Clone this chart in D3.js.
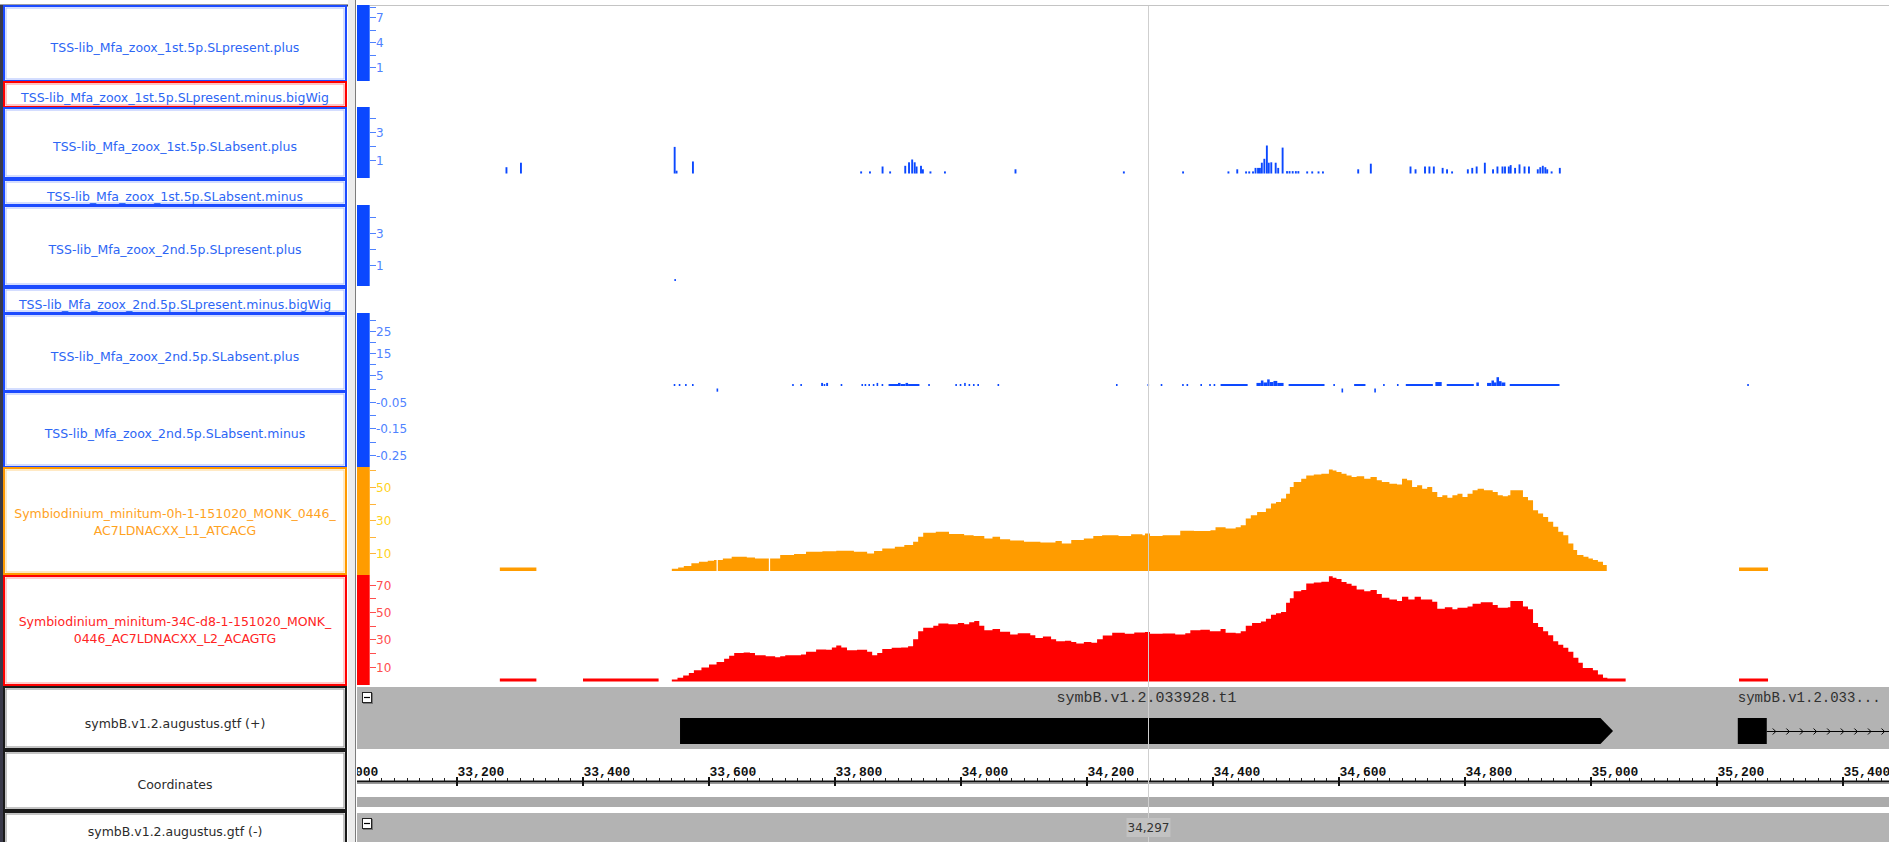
<!DOCTYPE html>
<html>
<head>
<meta charset="utf-8">
<script src="https://cdn.jsdelivr.net/npm/d3@7"></script>
<style>
  html, body { margin: 0; padding: 0; background: #fff; overflow: hidden; }
  svg { display: block; }
</style>
</head>
<body>
<svg id="browser" width="1889" height="842"></svg>
<script>
// ---------------------------------------------------------------------------
// Data for the genomic window around symbB.v1.2.033928.t1
// ---------------------------------------------------------------------------

// Track names, top to bottom
const trackLabels = [
  ["TSS-lib_Mfa_zoox_1st.5p.SLpresent.plus"],
  ["TSS-lib_Mfa_zoox_1st.5p.SLpresent.minus.bigWig"],
  ["TSS-lib_Mfa_zoox_1st.5p.SLabsent.plus"],
  ["TSS-lib_Mfa_zoox_1st.5p.SLabsent.minus"],
  ["TSS-lib_Mfa_zoox_2nd.5p.SLpresent.plus"],
  ["TSS-lib_Mfa_zoox_2nd.5p.SLpresent.minus.bigWig"],
  ["TSS-lib_Mfa_zoox_2nd.5p.SLabsent.plus"],
  ["TSS-lib_Mfa_zoox_2nd.5p.SLabsent.minus"],
  ["Symbiodinium_minitum-0h-1-151020_MONK_0446_", "AC7LDNACXX_L1_ATCACG"],
  ["Symbiodinium_minitum-34C-d8-1-151020_MONK_", "0446_AC7LDNACXX_L2_ACAGTG"],
  ["symbB.v1.2.augustus.gtf (+)"],
  ["Coordinates"],
  ["symbB.v1.2.augustus.gtf (-)"]
];

// Coordinate ruler
const coordMajorTicks = [33000, 33200, 33400, 33600, 33800, 34000, 34200, 34400, 34600, 34800, 35000, 35200, 35400];
const coordMinorStep = 20;
const cursorPos = 34297;

// Per-track value axes: tick values and the ones that carry a label
const ticks1stPresentPlus  = [8.25, 7, 5.5, 4, 2.5, 1];
const labels1stPresentPlus = [7, 4, 1];
const ticks1stAbsentPlus   = [4, 3, 2, 1];
const labels1stAbsentPlus  = [3, 1];
const ticks2ndPresentPlus  = [4, 3, 2, 1];
const labels2ndPresentPlus = [3, 1];
const ticks2ndAbsentPlus   = [30, 25, 20, 15, 10, 5];
const labels2ndAbsentPlus  = [25, 15, 5];
const ticks2ndAbsentMinus  = [0, -0.05, -0.1, -0.15, -0.2, -0.25];
const labels2ndAbsentMinus = [-0.05, -0.15, -0.25];
const ticks0h   = [60, 50, 40, 30, 20, 10];
const labels0h  = [50, 30, 10];
const ticks34C  = [70, 60, 50, 40, 30, 20, 10];
const labels34C = [70, 50, 30, 10];

// TSS signal intervals: [start, end, value]
const tss1stPresentPlus = [];   // no signal in this window
const tss1stAbsentPlus = [
  [33277,33280,0.45],[33300,33303,0.77],[33544,33547,1.9],[33547,33550,0.2],[33573,33576,0.86],
  [33840,33843,0.15],[33854,33857,0.15],[33874,33877,0.5],[33886,33889,0.15],
  [33910,33913,0.55],[33916,33919,0.8],[33921,33924,1.0],[33925,33928,0.8],[33928,33931,0.5],
  [33935,33938,0.55],[33938,33941,0.3],[33950,33953,0.15],[33973,33976,0.15],[34085,34088,0.3],
  [34257,34260,0.15],[34351,34354,0.15],[34423,34426,0.15],[34437,34440,0.3],[34451,34454,0.15],
  [34456,34459,0.15],[34462,34465,0.15],[34466,34469,0.4],[34470,34473,0.4],[34473,34476,0.4],
  [34476,34479,0.77],[34480,34483,1.05],[34484,34487,2.0],[34487,34490,0.77],[34491,34494,0.8],
  [34498,34501,0.77],[34502,34505,0.4],[34509,34512,1.85],[34516,34519,0.17],[34520,34523,0.17],
  [34525,34528,0.17],[34530,34533,0.17],[34534,34537,0.17],[34548,34551,0.15],[34556,34559,0.15],
  [34566,34569,0.15],[34573,34576,0.15],[34629,34632,0.3],[34649,34652,0.7],[34712,34715,0.5],
  [34720,34723,0.3],[34735,34738,0.5],[34742,34745,0.5],[34749,34752,0.5],[34763,34766,0.4],
  [34770,34773,0.3],[34778,34781,0.15],[34803,34806,0.3],[34810,34813,0.4],[34817,34820,0.5],
  [34830,34833,0.77],[34843,34846,0.3],[34850,34853,0.5],[34858,34861,0.5],[34862,34865,0.5],
  [34868,34871,0.5],[34871,34874,0.6],[34878,34881,0.4],[34885,34888,0.65],[34893,34896,0.5],
  [34900,34903,0.5],[34914,34917,0.3],[34918,34921,0.45],[34922,34925,0.55],[34926,34929,0.45],
  [34929,34932,0.3],[34936,34939,0.15],[34949,34952,0.4]
];
const tss2ndPresentPlus = [[33545,33547,0.12]];
const tss2ndAbsentPlus = [
  [33544,33546,0.9],[33552,33554,0.9],[33562,33564,0.9],[33573,33575,0.9],
  [33732,33734,0.9],[33745,33747,0.9],[33778,33781,1.4],[33782,33784,0.9],[33786,33789,1.4],
  [33809,33811,0.9],[33842,33844,0.9],[33847,33849,0.9],[33853,33855,0.9],[33860,33862,0.9],
  [33866,33868,1.4],[33874,33876,0.9],[33885,33900,0.9],[33900,33904,1.4],[33904,33912,0.9],
  [33912,33916,1.4],[33916,33934,0.9],[33948,33950,0.9],[33991,33993,0.9],[33998,34000,0.9],
  [34005,34007,1.4],[34012,34014,0.9],[34019,34021,0.9],[34026,34028,0.9],[34058,34060,0.9],
  [34246,34248,0.9],[34296,34298,0.9],[34317,34319,0.9],[34351,34353,0.9],[34358,34360,0.9],
  [34380,34382,0.9],[34394,34396,0.9],[34401,34403,0.9],[34412,34455,0.9],
  [34469,34476,1.4],[34476,34480,2.5],[34480,34486,1.6],[34486,34490,3.0],[34490,34496,1.8],
  [34496,34502,2.3],[34502,34512,1.4],[34520,34577,0.9],[34591,34593,0.9],[34624,34642,0.9],
  [34670,34672,0.9],[34692,34694,0.9],[34706,34749,0.9],[34753,34763,1.8],[34771,34814,0.9],
  [34818,34822,1.6],[34835,34842,1.4],[34842,34846,2.5],[34846,34850,1.6],[34850,34854,4.0],
  [34854,34858,2.2],[34858,34864,1.6],[34871,34950,0.9],[35248,35250,0.9]
];
const tss2ndAbsentMinus = [[33612,33614,-0.012],[34604,34606,-0.015],[34656,34658,-0.015]];

// RNA-seq read coverage: [position, depth], step after each position
const coverage0h = [
  [33268,1.5],[33326,0],
  [33541,0.8],[33551,1.5],[33560,2.4],[33572,4],[33584,5],[33598,5.5],[33608,6],[33612,0],[33614,6],
  [33622,7],[33636,8],[33660,7.6],[33673,7],[33695,0],[33697,7],[33713,9],[33735,9.6],[33754,11],
  [33780,11.3],[33802,11.6],[33830,11],[33851,10],[33862,11.5],[33875,13],[33895,14],[33910,15],
  [33924,17],[33932,20],[33940,22.5],[33960,23],[33981,21.7],[34005,21],[34020,20.5],[34037,19],
  [34050,20],[34062,18.5],[34078,17.7],[34100,17],[34126,16.5],[34150,17.5],[34160,16],[34175,18],
  [34195,19],[34210,20.5],[34224,21],[34250,20.5],[34270,21.5],[34288,21],[34292,22],[34300,20.5],
  [34320,21],[34348,23.7],[34370,23.5],[34396,24],[34404,25.7],[34420,25],[34436,25.7],[34444,27],
  [34452,31],[34460,33],[34470,35],[34484,37],[34492,40],[34500,41],[34508,43],[34516,46],[34522,50],
  [34528,53],[34540,55],[34548,57],[34560,57.5],[34572,58],[34584,60.6],[34590,60],[34596,59],
  [34604,58],[34612,57],[34620,56],[34628,56.5],[34640,55],[34650,56],[34660,54],[34668,53],
  [34680,52],[34692,51.5],[34700,55],[34708,54],[34716,50],[34724,51],[34732,49],[34740,50],
  [34748,47],[34756,44],[34764,45],[34772,43.5],[34780,45],[34788,46],[34796,44],[34804,46],
  [34812,48],[34820,49],[34830,48],[34844,47],[34852,45],[34860,44.5],[34868,45],[34872,48],
  [34884,48],[34892,44],[34900,42],[34908,36],[34916,34],[34924,32],[34932,29],[34940,26],
  [34948,23],[34956,21],[34964,16],[34972,12],[34978,9],[34988,8],[34996,7],[35003,6],[35011,5],
  [35019,3],[35025,0],
  [35235,1.5],[35281,0]
];
const coverage34C = [
  [33268,1.5],[33326,0],[33400,1.5],[33520,0],
  [33541,0.8],[33550,2],[33559,3.6],[33568,5.5],[33576,7.5],[33588,9.5],[33600,11.7],[33612,13.5],
  [33624,15.8],[33632,18],[33640,20],[33655,20.5],[33665,20],[33673,18.5],[33690,17.7],[33705,17],
  [33713,17.7],[33721,18.5],[33746,19],[33754,21],[33770,22.6],[33786,22.5],[33795,24],[33802,25.5],
  [33810,24],[33819,22],[33835,22.5],[33851,21],[33859,18.5],[33867,20],[33875,23],[33890,23.8],
  [33905,24],[33916,25],[33924,30],[33932,36],[33940,38.5],[33956,40],[33964,41.6],[33980,41],
  [33995,42],[34005,41],[34013,42.5],[34021,43.3],[34029,40],[34037,36.7],[34050,37.5],[34062,35.5],
  [34078,33.6],[34090,34.5],[34110,33],[34118,31],[34130,32],[34143,30],[34151,28.7],[34165,29],
  [34175,28],[34183,27],[34195,28],[34207,27.5],[34216,30],[34225,32.8],[34240,34.8],[34260,34],
  [34275,35],[34292,35.3],[34300,34],[34320,34.3],[34340,33.5],[34356,34.5],[34364,36.7],[34380,37],
  [34395,36],[34412,37.5],[34420,34.8],[34436,34.5],[34444,36],[34452,40],[34462,42],[34476,43],
  [34484,45],[34492,48],[34500,49],[34508,50],[34516,56.7],[34522,60],[34528,65],[34540,66],
  [34548,70.8],[34560,71.5],[34572,72],[34584,76],[34590,75],[34596,74],[34604,71.8],[34612,70.5],
  [34620,69],[34628,66.4],[34640,65],[34650,66],[34660,63],[34668,60.3],[34680,59],[34692,58],
  [34700,61],[34710,59],[34720,61],[34730,59],[34748,57.5],[34756,52.3],[34768,53.5],[34780,52],
  [34788,53],[34804,54],[34812,56],[34825,57],[34844,55],[34852,53],[34868,53.5],[34872,58],
  [34884,58],[34892,54],[34900,52],[34908,42],[34916,39],[34924,36],[34932,33],[34940,28.7],
  [34948,26],[34956,23.8],[34964,21],[34972,16.5],[34980,13],[34987,9.2],[35003,7.5],[35011,4.4],
  [35019,2],[35026,1.5],[35055,0],
  [35235,1.5],[35281,0]
];

// Gene models on the plus strand
const genesPlus = [
  { name: "symbB.v1.2.033928.t1", start: 33554, end: 35035, exons: [[33554, 35035]], labelAlign: "middle" },
  { name: "symbB.v1.2.033...",    start: 35233, end: 35600, exons: [[35233, 35279]], labelAlign: "start" }
];

// ---------------------------------------------------------------------------
// Drawing
// ---------------------------------------------------------------------------
const W = 1889, H = 842;
const svg = d3.select("#browser");
const dataLeft = 357, barRight = 369;

const BLUE = "#0b48ff", BLUE_TXT = "#2d66f5", BLUE_TICK = "#4f82ff";
const ORANGE = "#ff9c00", ORANGE_TXT = "#ffa21e", ORANGE_TICK = "#ffb43a", ORANGE_LBL = "#ffd21c";
const RED = "#ff0000", RED_TXT = "#ff2424", RED_TICK = "#ff4e4e";
const GREY = "#b3b3b3";

const x = d3.scaleLinear().domain([33200, 35400]).range([457, 1843]);

svg.append("rect").attr("width", W).attr("height", H).attr("fill", "#fff");

svg.append("defs").append("clipPath").attr("id", "dataClip")
  .append("rect").attr("x", dataLeft).attr("y", 0).attr("width", W - dataLeft).attr("height", H);

// ---- left label panel -----------------------------------------------------
const boxes = [
  { top: 6,   bottom: 81,  textY: 47,  outer: "#1c4bff", inner: "#a9bcff", text: BLUE_TXT },
  { top: 82,  bottom: 107, textY: 97.5,outer: "#ff0000", inner: "#ff8a8a", text: BLUE_TXT },
  { top: 108, bottom: 178, textY: 146, outer: "#1c4bff", inner: "#a9bcff", text: BLUE_TXT },
  { top: 180, bottom: 205, textY: 196, outer: "#1c4bff", inner: "#a9bcff", text: BLUE_TXT },
  { top: 206, bottom: 286, textY: 249, outer: "#1c4bff", inner: "#a9bcff", text: BLUE_TXT },
  { top: 288, bottom: 313, textY: 304, outer: "#1c4bff", inner: "#a9bcff", text: BLUE_TXT },
  { top: 314, bottom: 391, textY: 356, outer: "#1c4bff", inner: "#a9bcff", text: BLUE_TXT },
  { top: 392, bottom: 467, textY: 433, outer: "#1c4bff", inner: "#a9bcff", text: BLUE_TXT },
  { top: 468, bottom: 574, textY: 521.5, outer: "#ff9a00", inner: "#ffd48a", text: ORANGE_TXT },
  { top: 576, bottom: 685, textY: 630, outer: "#ff0000", inner: "#ff9a9a", text: RED_TXT },
  { top: 687, bottom: 749, textY: 723, outer: "#1a1a1a", inner: "#8a8a8a", text: "#2b2b2b" },
  { top: 751, bottom: 810, textY: 784, outer: "#1a1a1a", inner: "#8a8a8a", text: "#2b2b2b" },
  { top: 812, bottom: 852, textY: 831, outer: "#1a1a1a", inner: "#8a8a8a", text: "#2b2b2b" }
];

const left = svg.append("g");
left.append("rect").attr("x", 0).attr("y", 4).attr("width", 348).attr("height", H)
  .attr("fill", "#fff");
// panel frame
left.append("line").attr("x1", 1.5).attr("x2", 1.5).attr("y1", 5).attr("y2", H)
  .attr("stroke", "#3a3a4a").attr("stroke-width", 3);
left.append("line").attr("x1", 0).attr("x2", 348).attr("y1", 5.5).attr("y2", 5.5)
  .attr("stroke", "#3a3a4a").attr("stroke-width", 2);

boxes.forEach((b, i) => {
  const g = left.append("g");
  g.append("rect").attr("x", 4).attr("y", b.top).attr("width", 342).attr("height", b.bottom - b.top)
    .attr("fill", "#fff").attr("stroke", b.outer).attr("stroke-width", 2);
  g.append("rect").attr("x", 6).attr("y", b.top + 2).attr("width", 338).attr("height", b.bottom - b.top - 4)
    .attr("fill", "none").attr("stroke", b.inner).attr("stroke-width", 1);
  const lines = trackLabels[i];
  const lh = 17;
  lines.forEach((t, k) => {
    g.append("text")
      .attr("x", 175)
      .attr("y", b.textY + (k - (lines.length - 1) / 2) * lh)
      .attr("dy", "0.36em")
      .attr("text-anchor", "middle")
      .attr("font-family", "DejaVu Sans, Verdana, sans-serif")
      .attr("font-size", 12.5)
      .attr("fill", b.text)
      .text(t);
  });
});

// splitter between the panels
svg.append("rect").attr("x", 348).attr("y", 0).attr("width", 7).attr("height", H).attr("fill", "#ececec");
svg.append("line").attr("x1", 355.5).attr("x2", 355.5).attr("y1", 0).attr("y2", H)
  .attr("stroke", "#7c7c7c").attr("stroke-width", 1);
svg.append("line").attr("x1", dataLeft).attr("x2", W).attr("y1", 5.5).attr("y2", 5.5)
  .attr("stroke", "#c4c4c4").attr("stroke-width", 1);

// ---- data panel -----------------------------------------------------------
const plot = svg.append("g").attr("clip-path", "url(#dataClip)");

// value scales for each track
const y1stPresentPlus = d3.scaleLinear().domain([1, 7]).range([67, 17]);
const y1stAbsentPlus  = d3.scaleLinear().domain([0, 4]).range([173.5, 117.5]);
const y2ndPresentPlus = d3.scaleLinear().domain([0, 4]).range([281, 217]);
const y2ndAbsentPlus  = d3.scaleLinear().domain([0, 30]).range([386, 320]);
const y2ndAbsentMinus = d3.scaleLinear().domain([0, -0.3]).range([388.5, 468]);
const y0h  = d3.scaleLinear().domain([0, 60]).range([570, 470.4]);
const y34C = d3.scaleLinear().domain([0, 70]).range([680.5, 584.5]);

// signal intervals as thin bars
function drawIntervals(data, y, color) {
  const y0 = y(0);
  plot.append("g").selectAll("rect").data(data).join("rect")
    .attr("x", d => x(d[0]))
    .attr("width", d => Math.max(1.6, x(d[1]) - x(d[0])))
    .attr("y", d => Math.min(y0, y(d[2])))
    .attr("height", d => Math.max(1.5, Math.abs(y(d[2]) - y0)))
    .attr("fill", color);
}
drawIntervals(tss1stPresentPlus, y1stPresentPlus, BLUE);
drawIntervals(tss1stAbsentPlus, y1stAbsentPlus, BLUE);
drawIntervals(tss2ndPresentPlus, y2ndPresentPlus, BLUE);
drawIntervals(tss2ndAbsentPlus, y2ndAbsentPlus, BLUE);
drawIntervals(tss2ndAbsentMinus, y2ndAbsentMinus, BLUE);

// read coverage as stepped areas
function drawCoverage(data, y, color) {
  const area = d3.area().curve(d3.curveStepAfter)
    .x(d => x(d[0])).y0(y(0) + 1).y1(d => d[1] > 0 ? y(d[1]) : y(0) + 1);
  plot.append("path").datum(data).attr("d", area).attr("fill", color);
}
drawCoverage(coverage0h, y0h, ORANGE);
drawCoverage(coverage34C, y34C, RED);

// colour bars and value axes along the left edge of the data panel
function drawScaleBar(top, bottom, fill) {
  svg.append("rect").attr("x", dataLeft).attr("y", top).attr("width", barRight - dataLeft)
    .attr("height", bottom - top).attr("fill", fill);
}
function drawValueAxis(y, ticks, labels, top, bottom, tickColor, labelColor, fmt) {
  const g = svg.append("g");
  g.append("line").attr("x1", barRight + 0.5).attr("x2", barRight + 0.5).attr("y1", top).attr("y2", bottom)
    .attr("stroke", tickColor).attr("stroke-width", 1);
  ticks.forEach(v => {
    const yy = Math.round(y(v)) + 0.5;
    g.append("line").attr("x1", barRight).attr("x2", barRight + 7).attr("y1", yy).attr("y2", yy)
      .attr("stroke", tickColor).attr("stroke-width", 1);
    if (labels.includes(v)) {
      g.append("text").attr("x", barRight + 7).attr("y", yy).attr("dy", "0.36em")
        .attr("font-family", "DejaVu Sans, Verdana, sans-serif").attr("font-size", 12)
        .attr("fill", labelColor).text(fmt ? fmt(v) : String(v));
    }
  });
}
drawScaleBar(5, 81, BLUE);
drawScaleBar(107, 178, BLUE);
drawScaleBar(205, 286, BLUE);
drawScaleBar(313, 467, BLUE);
drawScaleBar(467, 575, ORANGE);
drawScaleBar(575, 685, RED);

drawValueAxis(y1stPresentPlus, ticks1stPresentPlus, labels1stPresentPlus, 5, 81, BLUE_TICK, BLUE_TICK);
drawValueAxis(y1stAbsentPlus, ticks1stAbsentPlus, labels1stAbsentPlus, 107, 178, BLUE_TICK, BLUE_TICK);
drawValueAxis(y2ndPresentPlus, ticks2ndPresentPlus, labels2ndPresentPlus, 205, 286, BLUE_TICK, BLUE_TICK);
drawValueAxis(y2ndAbsentPlus, ticks2ndAbsentPlus, labels2ndAbsentPlus, 313, 390, BLUE_TICK, BLUE_TICK);
drawValueAxis(y2ndAbsentMinus, ticks2ndAbsentMinus, labels2ndAbsentMinus, 390, 467, BLUE_TICK, BLUE_TICK);
drawValueAxis(y0h, ticks0h, labels0h, 467, 575, ORANGE_TICK, ORANGE_LBL);
drawValueAxis(y34C, ticks34C, labels34C, 575, 685, RED_TICK, RED_TICK);

// ---- gene track (+) ---------------------------------------------------------
const geneTop = 687, geneBottom = 749, exonTop = 718, exonBottom = 744;
const exonMid = (exonTop + exonBottom) / 2;
plot.append("rect").attr("x", dataLeft).attr("y", geneTop).attr("width", W - dataLeft)
  .attr("height", geneBottom - geneTop).attr("fill", GREY);

genesPlus.forEach(gene => {
  const g = plot.append("g");
  const gx0 = x(gene.start), gx1 = x(gene.end);
  // intron line with direction chevrons
  const lastExonEnd = x(d3.max(gene.exons, e => e[1]));
  if (gx1 > lastExonEnd) {
    g.append("line").attr("x1", lastExonEnd).attr("x2", gx1).attr("y1", exonMid + 0.5).attr("y2", exonMid + 0.5)
      .attr("stroke", "#000").attr("stroke-width", 1);
    d3.range(lastExonEnd + 9, Math.min(gx1, W), 13.6).forEach(cx => {
      g.append("path").attr("d", `M${cx - 3},${exonMid - 2.5}L${cx},${exonMid + 0.5}L${cx - 3},${exonMid + 3.5}`)
        .attr("fill", "none").attr("stroke", "#000").attr("stroke-width", 1);
    });
  }
  gene.exons.forEach(e => {
    const ex0 = x(e[0]), ex1 = x(e[1]);
    if (e[1] === gene.end) {
      // final block ends in a pointed tip showing strand direction
      const tip = 20 * (x(1) - x(0));
      g.append("path")
        .attr("d", `M${ex0},${exonTop}L${ex1 - tip},${exonTop}L${ex1},${exonMid}L${ex1 - tip},${exonBottom}L${ex0},${exonBottom}Z`)
        .attr("fill", "#000");
    } else {
      g.append("rect").attr("x", ex0).attr("y", exonTop).attr("width", ex1 - ex0)
        .attr("height", exonBottom - exonTop).attr("fill", "#000");
    }
  });
  g.append("text")
    .attr("x", gene.labelAlign === "middle" ? (gx0 + gx1) / 2 : gx0)
    .attr("y", 702)
    .attr("text-anchor", gene.labelAlign)
    .attr("font-family", "Liberation Mono, Courier New, monospace")
    .attr("font-size", gene.labelAlign === "middle" ? 15 : 14)
    .attr("fill", "#303030")
    .text(gene.name);
});

// collapse buttons
function collapseBox(bx, by) {
  svg.append("rect").attr("x", bx + 1).attr("y", by + 1).attr("width", 10).attr("height", 11).attr("fill", "#777");
  svg.append("rect").attr("x", bx + 0.5).attr("y", by + 0.5).attr("width", 9).attr("height", 10)
    .attr("fill", "#fff").attr("stroke", "#222").attr("stroke-width", 1);
  svg.append("line").attr("x1", bx + 2).attr("x2", bx + 8).attr("y1", by + 5.5).attr("y2", by + 5.5)
    .attr("stroke", "#000").attr("stroke-width", 1.2);
}

// ---- coordinate ruler -------------------------------------------------------
const axisY = 781;
const minorTicks = d3.range(coordMajorTicks[0], coordMajorTicks[coordMajorTicks.length - 1] + 80, coordMinorStep)
  .filter(v => !coordMajorTicks.includes(v));
plot.append("g").selectAll("line").data(minorTicks).join("line")
  .attr("x1", d => Math.round(x(d)) + 0.5).attr("x2", d => Math.round(x(d)) + 0.5)
  .attr("y1", axisY - 3).attr("y2", axisY)
  .attr("stroke", "#222").attr("stroke-width", 1);
plot.append("line").attr("x1", dataLeft).attr("x2", W).attr("y1", axisY + 0.5).attr("y2", axisY + 0.5)
  .attr("stroke", "#111").attr("stroke-width", 2);
plot.append("line").attr("x1", dataLeft).attr("x2", W).attr("y1", axisY + 2.5).attr("y2", axisY + 2.5)
  .attr("stroke", "#9a9a9a").attr("stroke-width", 1);
plot.append("g").selectAll("line").data(coordMajorTicks).join("line")
  .attr("x1", d => x(d)).attr("x2", d => x(d))
  .attr("y1", axisY - 4).attr("y2", axisY + 5)
  .attr("stroke", "#111").attr("stroke-width", 2);
plot.append("g").selectAll("text").data(coordMajorTicks).join("text")
  .attr("x", d => x(d) + 0.5).attr("y", 776)
  .attr("font-family", "Liberation Mono, Courier New, monospace")
  .attr("font-weight", "bold").attr("font-size", 13)
  .attr("fill", "#111")
  .text(d => d3.format(",")(d));

// overview strip and gene track (-)
plot.append("rect").attr("x", dataLeft).attr("y", 797).attr("width", W - dataLeft).attr("height", 10).attr("fill", "#ababab");
plot.append("rect").attr("x", dataLeft).attr("y", 813).attr("width", W - dataLeft).attr("height", H - 813).attr("fill", GREY);

collapseBox(362, 692);
collapseBox(362, 818);

// ---- cursor -----------------------------------------------------------------
const cx = Math.round(x(cursorPos)) + 0.5;
plot.append("line").attr("x1", cx).attr("x2", cx).attr("y1", 6).attr("y2", H)
  .attr("stroke", "#cfcfcf").attr("stroke-width", 1);
plot.append("rect").attr("x", cx - 22).attr("y", 818).attr("width", 44).attr("height", 19).attr("fill", "#c2c2c2");
plot.append("text").attr("x", cx).attr("y", 828).attr("dy", "0.36em").attr("text-anchor", "middle")
  .attr("font-family", "DejaVu Sans, Verdana, sans-serif").attr("font-size", 12)
  .attr("fill", "#333").text(d3.format(",")(cursorPos));
</script>
</body>
</html>
